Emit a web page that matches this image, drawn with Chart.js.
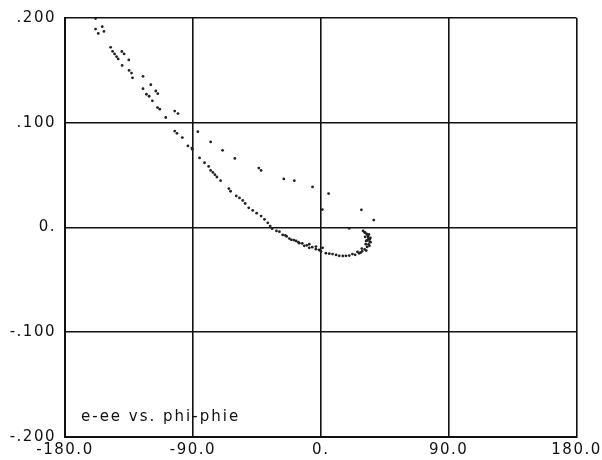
<!DOCTYPE html>
<html>
<head>
<meta charset="utf-8">
<script src="https://cdn.jsdelivr.net/npm/chart.js@4"></script>
<style>
  html, body { margin: 0; padding: 0; background: #fff; }
  #wrap { width: 602px; height: 460px; }
</style>
</head>
<body>
<div id="wrap"><canvas id="c" width="602" height="460"></canvas></div>
<script>
// ---- data ----
const xTickValues = [-180, -90, 0, 90, 180];
const xTickLabels = ["-180.0", "-90.0", "0.", "90.0", "180.0"];
const yTickValues = [-0.2, -0.1, 0, 0.1, 0.2];
const yTickLabels = ["-.200", "-.100", "0.", ".100", ".200"];
const annotationText = "e-ee vs. phi-phie";

// phi-phie (degrees)
const phiDiff = [
  -158.5, -158.5, -153.8, -156.6, -152.6, -147.9, -146.5, -145.1, -143.7, -142.6,
  -140.0, -138.4, -135.1, -139.8, -134.9, -133.2, -132.5, -125.1, -119.6, -125.1,
  -122.7, -120.8, -116.1, -114.7, -118.5, -114.9, -113.3, -109.1, -102.8, -100.5,
  -102.8, -101.2, -97.4, -93.5, -90.4, -90.7, -86.5, -77.5, -69.1, -60.5,
  -43.6, -42.0, -26.0, -18.6, -5.8, 5.5, 1.1, 28.6, 37.3, 20.0,
  -85.3, -81.8, -78.9, -77.5, -75.9, -74.5, -73.1, -70.5, -64.7, -63.5,
  -59.5, -57.2, -54.9, -53.2, -50.7, -47.9, -45.1, -42.0, -39.6, -37.3,
  -35.6, -34.2, -31.2, -26.8, -22.1, -17.4, -13.0, -8.1, -3.4, 1.3,
  -29.1, -24.9, -20.7, -15.1, -11.6, -8.1, -3.4, 0.1, 3.6, 8.3,
  13.0, 17.7, 22.3, 25.8, 28.9, 31.7, 33.5, 33.1, 31.2, 29.8,
  32.3, 33.3, 34.4, 34.4, 33.7, 32.6, 30.9, 29.1, 27.0, 24.2,
  31.2, 31.9, 30.9, 32.6, 33.9, 34.9, 35.0, 34.2, 32.0, 28.0,
  20.0, 15.5, 10.8, 6.0, -1.2, -6.0, -9.8, -15.8, -19.0, -24.0
];
// e-ee
const eDiff = [
  0.1995, 0.1894, 0.1917, 0.1853, 0.1872, 0.1720, 0.1682, 0.1657, 0.1632, 0.1609,
  0.1680, 0.1657, 0.1600, 0.1547, 0.1500, 0.1474, 0.1429, 0.1443, 0.1363, 0.1325,
  0.1272, 0.1253, 0.1303, 0.1278, 0.1209, 0.1145, 0.1130, 0.1050, 0.1111, 0.1088,
  0.0921, 0.0899, 0.0858, 0.0779, 0.0747, 0.0758, 0.0915, 0.0817, 0.0737, 0.0659,
  0.0567, 0.0545, 0.0464, 0.0447, 0.0387, 0.0324, 0.0171, 0.0169, 0.0071, -0.0008,
  0.0664, 0.0618, 0.0583, 0.0545, 0.0526, 0.0504, 0.0482, 0.0447, 0.0372, 0.0346,
  0.0301, 0.0282, 0.0258, 0.0229, 0.0188, 0.0163, 0.0137, 0.0109, 0.0078, 0.0045,
  0.0014, -0.0011, -0.0033, -0.0071, -0.0106, -0.0128, -0.0152, -0.0159, -0.0182, -0.0194,
  -0.0040, -0.0076, -0.0118, -0.0150, -0.0175, -0.0194, -0.0207, -0.0229, -0.0245, -0.0254,
  -0.0270, -0.0270, -0.0254, -0.0232, -0.0201, -0.0159, -0.0112, -0.0074, -0.0049, -0.0033,
  -0.0062, -0.0090, -0.0114, -0.0137, -0.0161, -0.0185, -0.0209, -0.0227, -0.0246, -0.0261,
  -0.0090, -0.0128, -0.0047, -0.0123, -0.0066, -0.0100, -0.0140, -0.0175, -0.0220, -0.0240,
  -0.0268, -0.0272, -0.0262, -0.0250, -0.0215, -0.0188, -0.0170, -0.0140, -0.0120, -0.0085
];

const points = phiDiff.map((x, i) => ({ x: x, y: eDiff[i] }));

const FONT = "'DejaVu Sans', sans-serif";

const spacingPlugin = {
  id: 'spacing',
  beforeDraw(chart) {
    chart.ctx.letterSpacing = '1.5px';
  },
  afterDraw(chart) {
    const ctx = chart.ctx;
    const xs = chart.scales.x, ys = chart.scales.y;
    ctx.save();
    ctx.letterSpacing = '2px';
    ctx.font = "15px " + FONT;
    ctx.fillStyle = '#111';
    ctx.textAlign = 'left';
    ctx.textBaseline = 'alphabetic';
    ctx.fillText(annotationText, xs.left + 16, ys.bottom - 16);
    ctx.restore();
    ctx.letterSpacing = '0px';
  }
};

new Chart(document.getElementById('c'), {
  type: 'scatter',
  data: {
    datasets: [{
      data: points,
      pointRadius: 1.4,
      pointHoverRadius: 1.4,
      pointBackgroundColor: '#222',
      pointBorderWidth: 0,
      showLine: false
    }]
  },
  options: {
    responsive: false,
    animation: false,
    devicePixelRatio: 1,
    layout: { padding: { top: 15, right: 24, left: 0, bottom: 0 } },
    plugins: {
      legend: { display: false },
      tooltip: { enabled: false },
      title: { display: false }
    },
    scales: {
      x: {
        type: 'linear',
        min: -180, max: 180,
        afterBuildTicks: s => { s.ticks = xTickValues.map(v => ({ value: v })); },
        afterFit: s => { s.height = 23; },
        ticks: {
          autoSkip: false,
          maxRotation: 0,
          padding: 4,
          color: '#111',
          font: { family: FONT, size: 15 },
          callback: (v) => { const i = xTickValues.indexOf(v); return i >= 0 ? xTickLabels[i] : ''; }
        },
        grid: { color: '#111', lineWidth: 1.6, drawTicks: false },
        border: { display: true, color: '#111', width: 2 }
      },
      y: {
        type: 'linear',
        min: -0.2, max: 0.2,
        afterBuildTicks: s => { s.ticks = yTickValues.map(v => ({ value: v })); },
        afterFit: s => { s.width = 65; },
        ticks: {
          autoSkip: false,
          padding: 9,
          color: '#111',
          font: { family: FONT, size: 15 },
          callback: (v) => { const i = yTickValues.indexOf(v); return i >= 0 ? yTickLabels[i] : ''; }
        },
        grid: { color: '#111', lineWidth: 1.6, drawTicks: false },
        border: { display: true, color: '#111', width: 2 }
      }
    }
  },
  plugins: [spacingPlugin]
});
</script>
</body>
</html>
